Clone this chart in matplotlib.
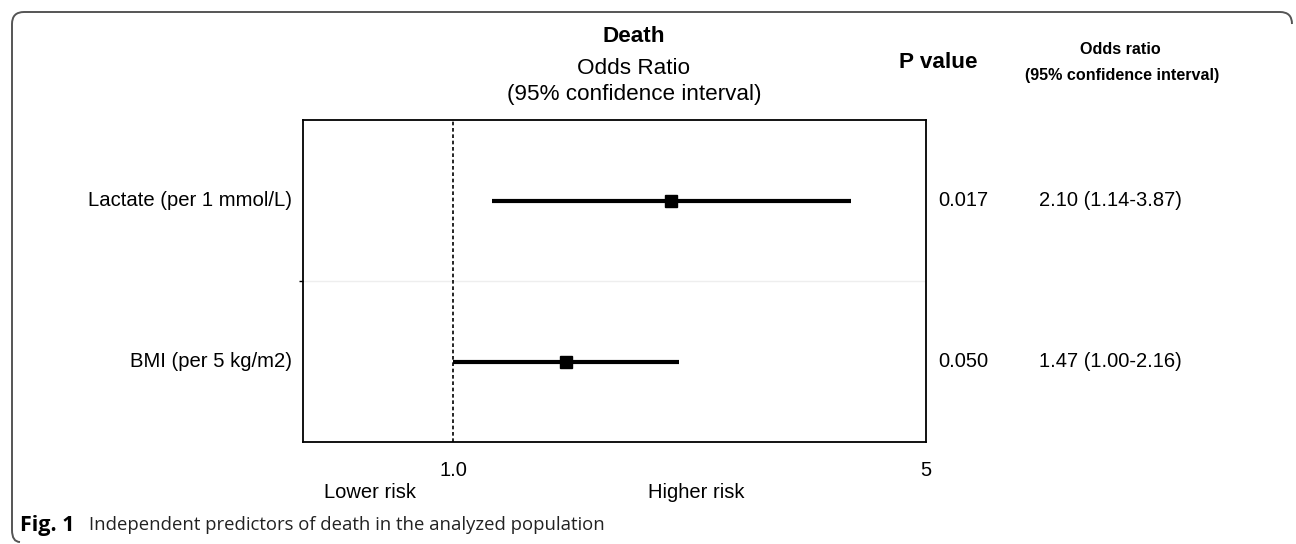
import numpy as np
import matplotlib
matplotlib.use("Agg")
import matplotlib.pyplot as plt
from matplotlib.path import Path
from matplotlib.patches import PathPatch
from matplotlib.transforms import Affine2D

plt.rcParams['font.family'] = ['Liberation Sans', 'DejaVu Sans']

# data
predictors = ['Lactate (per 1 mmol/L)', 'BMI (per 5 kg/m2)']
odds = [2.10, 1.47]
ci_low = [1.14, 1.00]
ci_high = [3.87, 2.16]
p_values = ['0.017', '0.050']
or_text = ['2.10 (1.14-3.87)', '1.47 (1.00-2.16)']
rows = [1, 0]

W, H = 1296, 544
fig = plt.figure(figsize=(W / 100, H / 100), dpi=100)

# px -> figure fraction helpers
def fx(px):
    return px / W

def fy(py):
    return 1 - py / H

ax = fig.add_axes([fx(303), fy(442), fx(926) - fx(303), fy(120) - fy(442)])
ax.set_xscale('log')
ax.set_xlim(0.6, 5)
ax.set_ylim(-0.5, 1.5)

# CI lines and squares
for r, o, lo, hi in zip(rows, odds, ci_low, ci_high):
    ax.plot([lo, hi], [r, r], color='black', lw=3.0, solid_capstyle='butt', zorder=3)
    ax.plot(o, r, marker='s', color='black', ms=8.8, zorder=4)

ax.axvline(1.0, color='black', lw=1.2, ls=(0, (2.2, 1.6)), zorder=2)
ax.axhline(0.5, color='#eeeeee', lw=1.0, zorder=1)

ax.set_yticks([0.5])
ax.set_yticklabels([''])
ax.tick_params(axis='y', length=3, width=1)
ax.set_xticks([1.0, 5])
ax.set_xticklabels(['1.0', '5'], fontsize=14.5)
ax.xaxis.set_minor_locator(matplotlib.ticker.NullLocator())
ax.tick_params(axis='x', length=0, pad=14)
for s in ax.spines.values():
    s.set_linewidth(1.3)

# row labels and side columns
for r, name, p, t in zip(rows, predictors, p_values, or_text):
    ax.text(-0.018, r, name, transform=ax.get_yaxis_transform(), ha='right', va='center', fontsize=14.6)
    yf = ax.transData.transform((1, r))[1] / H
    fig.text(fx(938), yf, p, fontsize=14.5, ha='left', va='center')
    fig.text(fx(1110), yf, t, fontsize=14.5, ha='center', va='center')

# headers
fig.text(fx(634), fy(37), 'Death', fontsize=16.2, fontweight='bold', ha='center', va='center')
fig.text(fx(634), fy(68), 'Odds Ratio', fontsize=16.2, ha='center', va='center')
fig.text(fx(634), fy(95), '(95% confidence interval)', fontsize=16.2, ha='center', va='center')
fig.text(fx(938), fy(63), 'P value', fontsize=16.2, fontweight='bold', ha='center', va='center')
fig.text(fx(1120), fy(50), 'Odds ratio', fontsize=11.6, fontweight='bold', ha='center', va='center')
fig.text(fx(1122), fy(75), '(95% confidence interval)', fontsize=11.6, fontweight='bold', ha='center', va='center')

fig.text(fx(370), fy(493), 'Lower risk', fontsize=14.5, ha='center', va='center')
fig.text(fx(696), fy(493), 'Higher risk', fontsize=14.5, ha='center', va='center')

# caption
fig.text(fx(20), fy(525), 'Fig. 1', fontsize=15.5, fontweight='bold', ha='left', va='center', family='Open Sans')
fig.text(fx(89), fy(525), 'Independent predictors of death in the analyzed population', fontsize=13.3,
         ha='left', va='center', family='Open Sans', color='#222222')

# page border: left side, top, rounded corners
verts = [(1292, 24), (1292, 12), (1280, 12), (24, 12), (12, 12), (12, 24),
         (12, 530), (12, 542), (20, 542)]
codes = [Path.MOVETO, Path.CURVE3, Path.CURVE3, Path.LINETO, Path.CURVE3, Path.CURVE3,
         Path.LINETO, Path.CURVE3, Path.CURVE3]
pix = Affine2D().scale(1 / W, -1 / H).translate(0, 1) + fig.transFigure
fig.patches.append(PathPatch(Path(verts, codes), transform=pix, fill=False,
                             edgecolor='#555555', lw=1.4, figure=fig))

fig.savefig('out.png', dpi=100)
